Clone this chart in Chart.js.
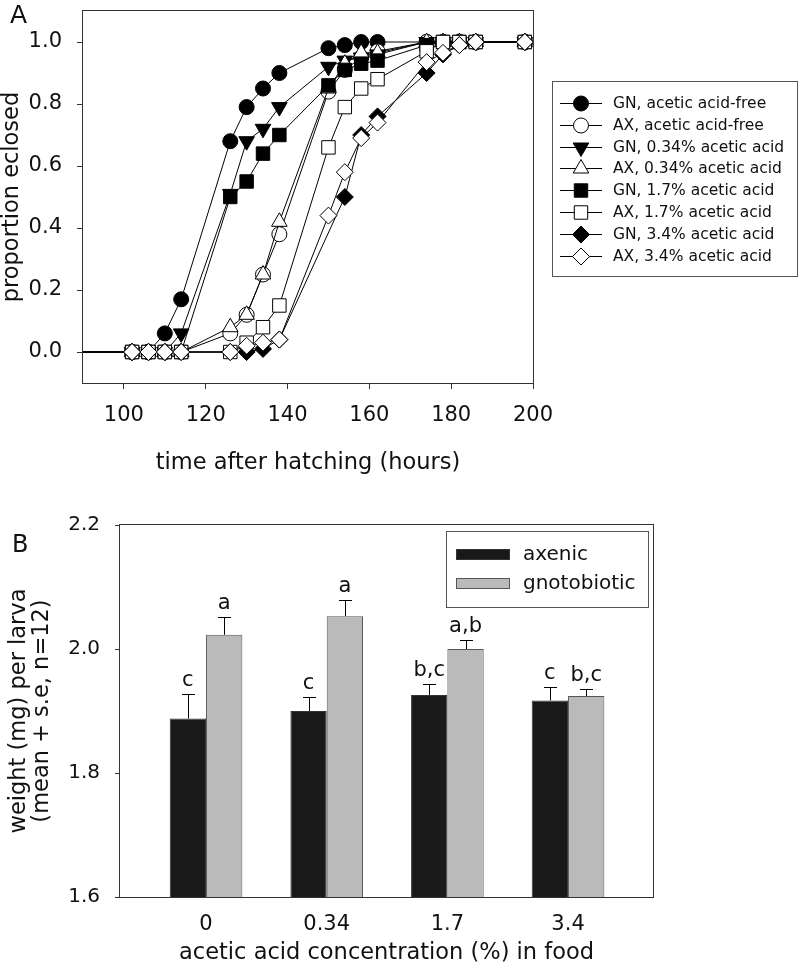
<!DOCTYPE html>
<html lang="en">
<head>
  <meta charset="UTF-8" />
  <title>Eclosion time course and larval weight</title>
  <script src="https://cdn.jsdelivr.net/npm/chart.js"></script>
  <style>
    html, body { margin: 0; padding: 0; background: #fff; }
    #wrap { position: relative; width: 800px; height: 966px; }
    #chartA { position: absolute; left: 0; top: 0; }
    #chartB { position: absolute; left: 0; top: 485px; }
  </style>
</head>
<body>
<div id="wrap">
  <canvas id="chartA" width="800" height="485"></canvas>
  <canvas id="chartB" width="800" height="481"></canvas>
</div>

<script>
// ---- panel A: proportion eclosed over time ----
const hours = [0, 102, 106, 110, 114, 126, 130, 134, 138, 150, 154, 158, 162, 174, 178, 182, 186, 198];
const gnFree  = [0, 0, 0, 0.06, 0.17, 0.68, 0.79, 0.85, 0.90, 0.98, 0.99, 1.0, 1.0, 1.0, 1.0, 1.0, 1.0, 1.0];
const axFree  = [0, 0, 0, 0, 0, 0.06, 0.12, 0.25, 0.38, 0.84, 0.91, 0.95, 0.97, 1.0, 1.0, 1.0, 1.0, 1.0];
const gn034   = [0, 0, 0, 0, 0.06, 0.51, 0.68, 0.72, 0.79, 0.92, 0.94, 0.95, 0.96, 1.0, 1.0, 1.0, 1.0, 1.0];
const ax034   = [0, 0, 0, 0, 0, 0.08, 0.12, 0.25, 0.42, 0.85, 0.93, 0.965, 0.965, 1.0, 1.0, 1.0, 1.0, 1.0];
const gn17    = [0, 0, 0, 0, 0, 0.50, 0.55, 0.64, 0.70, 0.86, 0.91, 0.93, 0.94, 0.99, 1.0, 1.0, 1.0, 1.0];
const ax17    = [0, 0, 0, 0, 0, 0, 0.03, 0.08, 0.15, 0.66, 0.79, 0.85, 0.88, 0.97, 1.0, 1.0, 1.0, 1.0];
const gn34    = [0, 0, 0, 0, 0, 0, 0, 0.01, 0.04, null, 0.50, 0.70, 0.76, 0.90, 0.96, 0.99, 1.0, 1.0];
const ax34    = [0, 0, 0, 0, 0, 0, 0.02, 0.03, 0.04, 0.44, 0.58, 0.69, 0.74, 0.935, 0.965, 0.99, 1.0, 1.0];

const seriesA = [gnFree, axFree, gn034, ax034, gn17, ax17, gn34, ax34];
const labelsA = [
  'GN, acetic acid-free', 'AX, acetic acid-free',
  'GN, 0.34% acetic acid', 'AX, 0.34% acetic acid',
  'GN, 1.7% acetic acid', 'AX, 1.7% acetic acid',
  'GN, 3.4% acetic acid', 'AX, 3.4% acetic acid'
];
const xTicksA = [100, 120, 140, 160, 180, 200];
const yTicksA = [0, 0.2, 0.4, 0.6, 0.8, 1.0];

// marker look per series (same order as labelsA)
const shapes    = ['circle', 'circle', 'triangle', 'triangle', 'rect', 'rect', 'rectRot', 'rectRot'];
const rotations = [0, 0, 180, 0, 0, 0, 0, 0];
const fills     = ['#000', '#fff', '#000', '#fff', '#000', '#fff', '#000', '#fff'];
const radii     = { circle: 7.5, triangle: 9, rect: 9.5, rectRot: 8.5 };

// ---- panel B: larval weight ----
const concentrations = ['0', '0.34', '1.7', '3.4'];
const axenicMean = [1.888, 1.900, 1.926, 1.917];
const axenicSE   = [0.039, 0.023, 0.017, 0.021];
const gnotoMean  = [2.023, 2.053, 2.000, 1.924];
const gnotoSE    = [0.028, 0.026, 0.015, 0.012];
const axenicLetters = ['c', 'c', 'b,c', 'c'];
const gnotoLetters  = ['a', 'a', 'a,b', 'b,c'];
const yTicksB = [1.6, 1.8, 2.0, 2.2];

const FONT = 'DejaVu Sans';
const INK = '#111';
Chart.defaults.font.family = FONT;
Chart.defaults.color = INK;

function drawMarker(ctx, shape, rot, r, fill, x, y) {
  ctx.beginPath();
  if (shape === 'circle') {
    ctx.arc(x, y, r, 0, Math.PI * 2);
  } else if (shape === 'triangle') {
    let a = rot * Math.PI / 180;
    ctx.moveTo(x + Math.sin(a) * r, y - Math.cos(a) * r);
    for (let k = 0; k < 2; k++) {
      a += Math.PI * 2 / 3;
      ctx.lineTo(x + Math.sin(a) * r, y - Math.cos(a) * r);
    }
  } else if (shape === 'rect') {
    const s = r * Math.SQRT1_2;
    ctx.rect(x - s, y - s, 2 * s, 2 * s);
  } else {
    ctx.moveTo(x - r, y); ctx.lineTo(x, y - r); ctx.lineTo(x + r, y); ctx.lineTo(x, y + r);
  }
  ctx.closePath();
  ctx.fillStyle = fill;
  ctx.fill();
  ctx.strokeStyle = '#000';
  ctx.lineWidth = 1;
  ctx.stroke();
}

const frame = {
  id: 'frame',
  afterDatasetsDraw(chart) {
    const { left, top, right, bottom } = chart.chartArea;
    const ctx = chart.ctx;
    ctx.save();
    ctx.strokeStyle = '#333';
    ctx.lineWidth = 1;
    ctx.strokeRect(Math.round(left) - 0.5, Math.round(top) - 0.5, Math.round(right - left) + 1, Math.round(bottom - top) + 1);
    ctx.restore();
  }
};

const legendA = {
  id: 'legendA',
  afterDraw(chart) {
    const ctx = chart.ctx;
    ctx.save();
    ctx.strokeStyle = '#555';
    ctx.lineWidth = 1;
    ctx.strokeRect(552.5, 81.5, 245, 195);
    ctx.font = '15.5px "' + FONT + '"';
    ctx.textBaseline = 'middle';
    labelsA.forEach((label, i) => {
      const y = Math.round(102.7 + i * 21.9) + 0.5;
      ctx.beginPath();
      ctx.moveTo(560, y); ctx.lineTo(602, y);
      ctx.strokeStyle = '#000';
      ctx.stroke();
      drawMarker(ctx, shapes[i], rotations[i], radii[shapes[i]], fills[i], 581, y);
      ctx.fillStyle = INK;
      ctx.fillText(label, 613, y);
    });
    ctx.font = '25px "' + FONT + '"';
    ctx.textBaseline = 'alphabetic';
    ctx.fillText('A', 10, 23);
    ctx.restore();
  }
};

new Chart(document.getElementById('chartA'), {
  type: 'line',
  data: {
    datasets: seriesA.map((vals, i) => ({
      label: labelsA[i],
      data: hours.map((h, k) => ({ x: h, y: vals[k] })),
      borderColor: '#000',
      borderWidth: 1,
      pointStyle: shapes[i],
      pointRotation: rotations[i],
      pointRadius: radii[shapes[i]],
      pointBackgroundColor: fills[i],
      pointBorderColor: '#000',
      pointBorderWidth: 1,
      spanGaps: true,
      order: seriesA.length - i
    }))
  },
  options: {
    responsive: false,
    animation: false,
    layout: { padding: { left: 0, top: 11, right: 267, bottom: 0 } },
    plugins: { legend: { display: false }, tooltip: { enabled: false } },
    scales: {
      x: {
        type: 'linear', min: 90, max: 200,
        afterBuildTicks: s => { s.ticks = xTicksA.map(v => ({ value: v })); },
        afterFit: s => { s.height = 102; s.paddingLeft = 0; s.paddingRight = 0; },
        grid: { drawOnChartArea: false, drawTicks: true, tickLength: 6, color: '#333' },
        border: { display: false },
        ticks: { padding: 14, font: { size: 21 }, maxRotation: 0, autoSkip: false },
        title: { display: true, text: 'time after hatching (hours)', font: { size: 22.5, lineHeight: 1.2 }, padding: { top: 0, bottom: 8.5 } }
      },
      y: {
        min: -0.1, max: 1.1,
        afterBuildTicks: s => { s.ticks = yTicksA.map(v => ({ value: v })); },
        afterFit: s => { s.width = 83; s.paddingTop = 0; s.paddingBottom = 0; },
        grid: { drawOnChartArea: false, drawTicks: true, tickLength: 6, color: '#333' },
        border: { display: false },
        ticks: { padding: 15, font: { size: 21 }, callback: v => v.toFixed(1) },
        title: { display: true, text: 'proportion eclosed', font: { size: 22.5, lineHeight: 1.1 }, padding: { top: 0, bottom: 0 } }
      }
    }
  },
  plugins: [frame, legendA]
});

// ---- panel B ----
const errorBars = {
  id: 'errorBars',
  afterDatasetsDraw(chart) {
    const ctx = chart.ctx;
    const yS = chart.scales.y;
    ctx.save();
    ctx.strokeStyle = '#000';
    ctx.lineWidth = 1;
    ctx.font = '21px "' + FONT + '"';
    ctx.fillStyle = INK;
    ctx.textAlign = 'center';
    ctx.textBaseline = 'alphabetic';
    chart.data.datasets.forEach((ds, d) => {
      chart.getDatasetMeta(d).data.forEach((bar, i) => {
        const x = Math.round(bar.x) + 0.5;
        const yTop = Math.round(yS.getPixelForValue(ds.means[i] + ds.se[i])) + 0.5;
        ctx.beginPath();
        ctx.moveTo(x, bar.y); ctx.lineTo(x, yTop);
        ctx.moveTo(x - 6.5, yTop); ctx.lineTo(x + 6.5, yTop);
        ctx.stroke();
        ctx.fillText(ds.letters[i], bar.x, yTop - 9);
      });
    });
    ctx.restore();
  }
};

const legendB = {
  id: 'legendB',
  afterDraw(chart) {
    const ctx = chart.ctx;
    ctx.save();
    ctx.strokeStyle = '#555';
    ctx.lineWidth = 1;
    ctx.strokeRect(446.5, 46.5, 202, 76);
    ctx.font = '20px "' + FONT + '"';
    ctx.textBaseline = 'middle';
    chart.data.datasets.forEach((ds, i) => {
      const top = i === 0 ? 64 : 93;
      ctx.fillStyle = ds.backgroundColor;
      ctx.fillRect(456, top, 54, 11);
      ctx.strokeStyle = ds.borderColor;
      ctx.strokeRect(456.5, top + 0.5, 53, 10);
      ctx.fillStyle = INK;
      ctx.fillText(ds.label, 523, top + 6);
    });
    ctx.font = '24px "' + FONT + '"';
    ctx.textBaseline = 'alphabetic';
    ctx.fillText('B', 12, 67);
    ctx.restore();
  }
};

new Chart(document.getElementById('chartB'), {
  type: 'bar',
  data: {
    datasets: [
      {
        label: 'axenic',
        data: axenicMean.map((v, i) => ({ x: i + 1, y: v })),
        means: axenicMean, se: axenicSE, letters: axenicLetters,
        backgroundColor: '#191919', borderColor: '#333', borderWidth: 1
      },
      {
        label: 'gnotobiotic',
        data: gnotoMean.map((v, i) => ({ x: i + 1, y: v })),
        means: gnotoMean, se: gnotoSE, letters: gnotoLetters,
        backgroundColor: '#bababa', borderColor: '#555', borderWidth: 1
      }
    ]
  },
  options: {
    responsive: false,
    animation: false,
    categoryPercentage: 0.602,
    barPercentage: 1,
    layout: { padding: { left: 0, top: 40, right: 147, bottom: 0 } },
    plugins: { legend: { display: false }, tooltip: { enabled: false } },
    scales: {
      x: {
        type: 'linear', offset: false, min: 0.287, max: 4.704,
        afterBuildTicks: s => { s.ticks = concentrations.map((c, i) => ({ value: i + 1 })); },
        afterFit: s => { s.height = 69; s.paddingLeft = 0; s.paddingRight = 0; },
        grid: { display: false },
        border: { display: false },
        ticks: { padding: 7, font: { size: 21 }, maxRotation: 0, autoSkip: false, callback: (v, i) => concentrations[i] },
        title: { display: true, text: 'acetic acid concentration (%) in food', font: { size: 22.5, lineHeight: 1.1 }, padding: { top: 0, bottom: 0 } }
      },
      y: {
        min: 1.6, max: 2.2,
        afterBuildTicks: s => { s.ticks = yTicksB.map(v => ({ value: v })); },
        afterFit: s => { s.width = 120; s.paddingTop = 0; s.paddingBottom = 0; },
        grid: { drawOnChartArea: false, drawTicks: true, tickLength: 5, color: '#333' },
        border: { display: false },
        ticks: { padding: 15, font: { size: 20 }, callback: v => v.toFixed(1) },
        title: {
          display: true,
          text: ['weight (mg) per larva', '(mean + s.e, n=12)'],
          font: { size: 22.5, lineHeight: 1.04 },
          padding: { top: 7.5, bottom: 0 }
        }
      }
    }
  },
  plugins: [frame, errorBars, legendB]
});
</script>
</body>
</html>
